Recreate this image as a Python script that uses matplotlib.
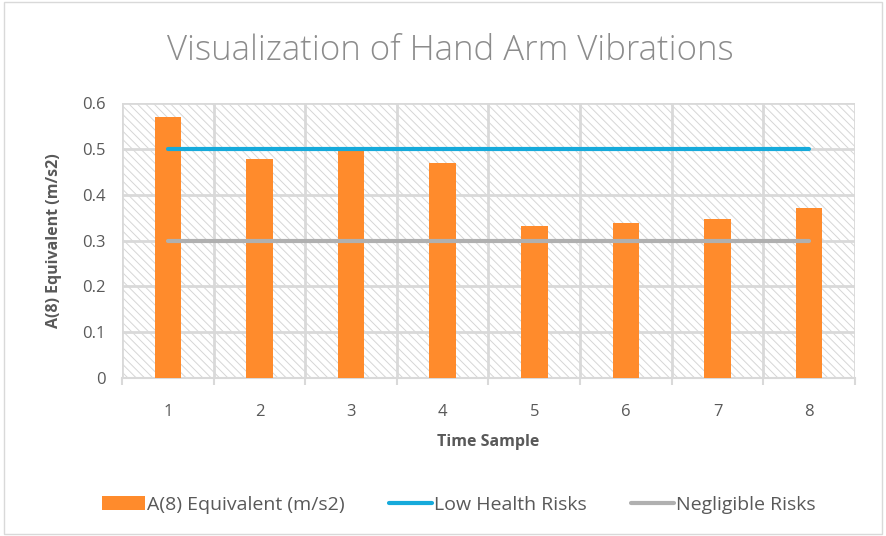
import matplotlib.pyplot as plt
import matplotlib.patches as mpatches
import numpy as np

# data
samples = [1, 2, 3, 4, 5, 6, 7, 8]
a8_values = [0.57, 0.478, 0.497, 0.469, 0.332, 0.339, 0.346, 0.37]
low_health = [0.5] * 8
negligible = [0.3] * 8
y_ticks = [0, 0.1, 0.2, 0.3, 0.4, 0.5, 0.6]
y_tick_labels = ['0', '0.1', '0.2', '0.3', '0.4', '0.5', '0.6']

orange = '#FF8B2C'
blue = '#16AADB'
gray_line = '#B0B0B0'
text_gray = '#595959'

plt.rcParams['font.family'] = ['Open Sans', 'DejaVu Sans']
plt.rcParams['hatch.linewidth'] = 0.7
plt.rcParams['hatch.color'] = '#D6D6D6'

fig = plt.figure(figsize=(8.86, 5.36), dpi=100)
ax = fig.add_axes([0.1377, 0.2948, 0.8273, 0.513])

# hatched plot background
bg = mpatches.Rectangle((0, 0), 1, 1, transform=ax.transAxes, facecolor='white',
                        edgecolor='#D6D6D6', hatch='\\\\\\\\', linewidth=0, zorder=0)
ax.add_patch(bg)

x = np.arange(1, len(samples) + 1)
bars = ax.bar(x, a8_values, width=0.29, color=orange, zorder=3)
l1, = ax.plot(x, low_health, color=blue, linewidth=3, solid_capstyle='round', zorder=4)
l2, = ax.plot(x, negligible, color=gray_line, linewidth=3, solid_capstyle='round', zorder=4)

ax.set_xlim(0.5, len(samples) + 0.5)
ax.set_ylim(0, 0.6)
ax.set_yticks(y_ticks)
ax.set_yticklabels(y_tick_labels)

# category ticks at centres, gridlines between categories
ax.set_xticks(x)
ax.set_xticklabels([str(s) for s in samples])
ax.set_xticks(np.arange(0.5, len(samples) + 1, 1), minor=True)
ax.tick_params(axis='x', which='major', length=0, pad=19, labelsize=12, colors=text_gray)
ax.tick_params(axis='x', which='minor', length=5, width=1.5, color='#D9D9D9')
ax.tick_params(axis='y', length=0, pad=12, labelsize=12, colors=text_gray)

ax.grid(axis='y', color='#D9D9D9', linewidth=2, zorder=1)
ax.grid(axis='x', which='minor', color='#D9D9D9', linewidth=2, zorder=1)
ax.set_axisbelow(True)

for side in ['top', 'right', 'left']:
    ax.spines[side].set_visible(False)
ax.spines['bottom'].set_color('#D9D9D9')
ax.spines['bottom'].set_linewidth(1.5)

ax.set_xlabel('Time Sample', fontsize=11.5, fontweight='bold', color=text_gray, labelpad=10)
ax.set_ylabel('A(8) Equivalent (m/s2)', fontsize=11.5, fontweight='bold', color=text_gray, labelpad=14)

fig.text(0.508, 0.905, 'Visualization of Hand Arm Vibrations', ha='center', va='center',
         fontsize=25, color='#8C8C8C', fontweight='light')

fig.legend([bars, l1, l2], ['A(8) Equivalent (m/s2)', 'Low Health Risks', 'Negligible Risks'],
           loc='center', bbox_to_anchor=(0.518, 0.058), ncol=3, frameon=False,
           fontsize=14, labelcolor=text_gray, handlelength=2.2, handleheight=0.75,
           columnspacing=2.3, handletextpad=0.1)

# outer chart border
fig.patches.append(mpatches.Rectangle((0.004, 0.004), 0.992, 0.992, transform=fig.transFigure,
                                      fill=False, edgecolor='#D9D9D9', linewidth=1))

fig.savefig('out.png', dpi=100)
